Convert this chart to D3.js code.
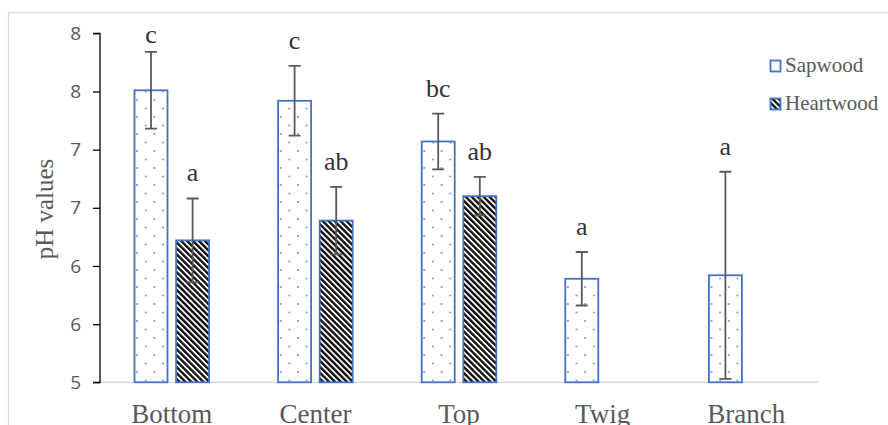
<!DOCTYPE html>
<html lang="en">
<head>
    <meta charset="UTF-8">
    <title>pH values</title>
    <script src="https://d3js.org/d3.v7.min.js"></script>
    <style>
        body {
            margin: 0;
            padding: 0;
            background: #fff;
        }
        svg {
            display: block;
        }
        .tick text {
            font-family: "Open Sans", "Liberation Sans", sans-serif;
            font-size: 19px;
            fill: #595959;
        }
    </style>
</head>
<body>
    <div id="chart"></div>
    <script>
        // data
        var categories = ["Bottom", "Center", "Top", "Twig", "Branch"];
        var series = ["Sapwood", "Heartwood"];
        var sapwood = [7.51, 7.42, 7.07, 5.89, 5.92];
        var sapwoodErr = [0.33, 0.30, 0.24, 0.23, 0.89];
        var heartwood = [6.22, 6.39, 6.60, null, null];
        var heartwoodErr = [0.36, 0.29, 0.165, null, null];
        var sapLetters = ["c", "c", "bc", "a", "a"];
        var heartLetters = ["a", "ab", "ab", null, null];
        var yTicks = [5, 5.5, 6, 6.5, 7, 7.5, 8];

        var w = 888;
        var h = 425;
        var margin = { left: 100, right: 70, top: 33, bottom: 43 };

        var svg = d3.select("#chart")
            .append("svg")
            .attr("width", w)
            .attr("height", h);

        var defs = svg.append("defs");

        // dotted fill for sapwood
        var dots = defs.append("pattern")
            .attr("id", "dots")
            .attr("patternUnits", "userSpaceOnUse")
            .attr("x", 140)
            .attr("y", 184)
            .attr("width", 17.3)
            .attr("height", 17);
        dots.append("rect").attr("width", 17.3).attr("height", 17).attr("fill", "#fff");
        dots.append("circle").attr("cx", 1).attr("cy", 1).attr("r", 1.1).attr("fill", "#7f9fd8");
        dots.append("circle").attr("cx", 9.65).attr("cy", 9.5).attr("r", 1.1).attr("fill", "#7f9fd8");

        // wide downward diagonal for heartwood
        var stripes = defs.append("pattern")
            .attr("id", "stripes")
            .attr("patternUnits", "userSpaceOnUse")
            .attr("width", 4.2)
            .attr("height", 10)
            .attr("patternTransform", "rotate(-45)");
        stripes.append("rect").attr("width", 4.2).attr("height", 10).attr("fill", "#fff");
        stripes.append("rect").attr("width", 2.4).attr("height", 10).attr("fill", "#111");

        var fills = { Sapwood: "url(#dots)", Heartwood: "url(#stripes)" };

        // outer chart border (cropped in the original)
        svg.append("rect")
            .attr("x", 8.5)
            .attr("y", 12.5)
            .attr("width", w)
            .attr("height", h)
            .attr("fill", "none")
            .attr("stroke", "#d9d9d9")
            .attr("stroke-width", 1.3);

        var x0 = d3.scaleBand()
            .domain(categories)
            .range([margin.left, 818]);

        var bw = x0.bandwidth();
        var x1 = d3.scaleBand()
            .domain(series)
            .range([bw / 2 - 37.3, bw / 2 + 37.3])
            .paddingInner(0.207);

        var y = d3.scaleLinear()
            .domain([5, 8])
            .range([382.3, 33.3]);

        var rows = categories.map(function (c, i) {
            return [
                { cat: c, s: "Sapwood", v: sapwood[i], e: sapwoodErr[i], l: sapLetters[i] },
                { cat: c, s: "Heartwood", v: heartwood[i], e: heartwoodErr[i], l: heartLetters[i] }
            ].filter(function (d) { return d.v != null; });
        });
        var flat = d3.merge(rows);

        // baseline
        svg.append("line")
            .attr("x1", margin.left)
            .attr("x2", 818)
            .attr("y1", y(5))
            .attr("y2", y(5))
            .attr("stroke", "#d9d9d9")
            .attr("stroke-width", 1.5);

        // y axis
        var yAxis = svg.append("g")
            .attr("transform", `translate(${margin.left},0)`)
            .call(d3.axisLeft(y)
                .tickValues(yTicks)
                .tickFormat(d3.format(".0f"))
                .tickSize(7)
                .tickPadding(12));
        yAxis.selectAll("path, line").attr("stroke", "#000").attr("stroke-width", 1.3);
        yAxis.select(".domain").attr("d", `M-7,${y(8)}H0V${y(5)}H-7`);

        // bars
        var bars = svg.append("g")
            .selectAll("g")
            .data(flat)
            .enter()
            .append("g")
            .attr("transform", (d) => `translate(${x0(d.cat) + x1(d.s)},0)`);

        bars.append("rect")
            .attr("x", 0)
            .attr("y", (d) => y(d.v))
            .attr("width", x1.bandwidth())
            .attr("height", (d) => y(5) - y(d.v))
            .attr("fill", (d) => fills[d.s])
            .attr("stroke", "#4472c4")
            .attr("stroke-width", 1.8);

        // error bars
        var cx = x1.bandwidth() / 2;
        bars.append("path")
            .attr("d", function (d) {
                var t = y(d.v + d.e), b = y(Math.max(5, d.v - d.e));
                return `M${cx},${t}V${b}M${cx - 6},${t}H${cx + 6}M${cx - 6},${b}H${cx + 6}`;
            })
            .attr("fill", "none")
            .attr("stroke", "#595959")
            .attr("stroke-width", 1.8);

        // significance letters
        bars.append("text")
            .attr("x", cx)
            .attr("y", (d) => Math.max(y(d.v + d.e) - 17, y(8) + 10))
            .attr("text-anchor", "middle")
            .style("font-family", "'Liberation Serif', 'Times New Roman', serif")
            .style("font-size", "26px")
            .style("fill", "#333")
            .text((d) => d.l);

        // category labels
        svg.append("g")
            .selectAll("text")
            .data(categories)
            .enter()
            .append("text")
            .attr("x", (d) => x0(d) + bw / 2)
            .attr("y", 423)
            .attr("text-anchor", "middle")
            .style("font-family", "'Liberation Serif', 'Times New Roman', serif")
            .style("font-size", "27px")
            .style("fill", "#595959")
            .text((d) => d);

        // y title
        svg.append("text")
            .attr("transform", "translate(53,209) rotate(-90)")
            .attr("text-anchor", "middle")
            .style("font-family", "'Liberation Serif', 'Times New Roman', serif")
            .style("font-size", "25px")
            .style("fill", "#595959")
            .text("pH values");

        // legend
        var legend = svg.append("g")
            .selectAll("g")
            .data(series)
            .enter()
            .append("g")
            .attr("transform", (d, i) => `translate(770,${60 + i * 38})`);

        legend.append("rect")
            .attr("x", 0.5)
            .attr("y", 0.5)
            .attr("width", 10)
            .attr("height", 11)
            .attr("fill", (d) => d === "Sapwood" ? "#fff" : "url(#stripes)")
            .attr("stroke", "#4472c4")
            .attr("stroke-width", 1.8);

        legend.append("text")
            .attr("x", 15)
            .attr("y", 12)
            .style("font-family", "'Liberation Serif', 'Times New Roman', serif")
            .style("font-size", "21px")
            .style("fill", "#595959")
            .text((d) => d);
    </script>
</body>
</html>
